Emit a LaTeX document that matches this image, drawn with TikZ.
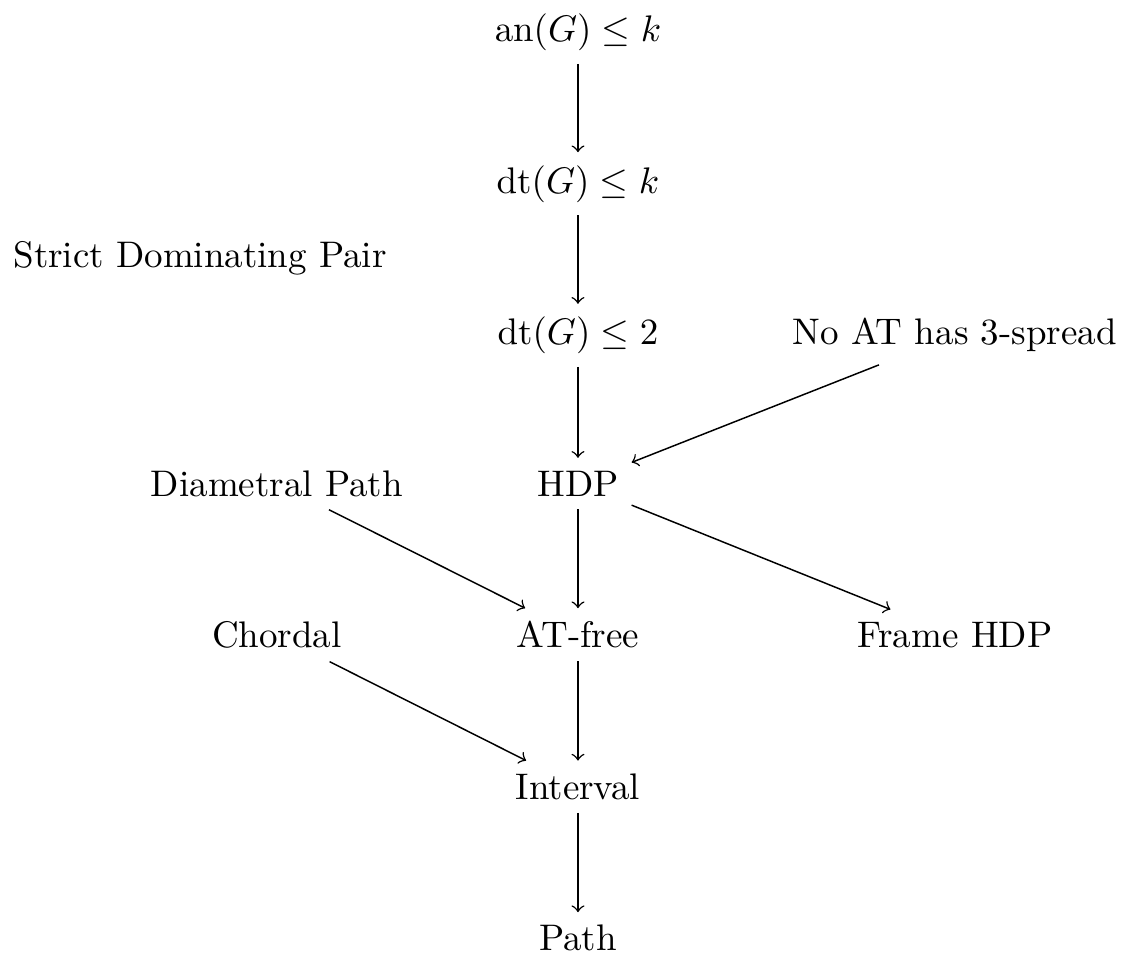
\documentclass[tikz,border=0pt]{standalone}
\usepackage{tikz}

\begin{document}
\begin{tikzpicture}[cls/.style={anchor=base}, imp/.style={->}]
              \useasboundingbox (-5.491,-8.678) rectangle (5.178,0.394);
              \node[cls] (an) at (0,0) {$\mathrm{an}(G) \leq k$};
              \node[cls] (dtk) at (0,-1.44) {$\mathrm{dt}(G) \leq k$};
              \node[cls] (sdp) at (-3.59,-2.15) {Strict Dominating Pair};
              \node[cls] (dttwo) at (0,-2.88) {$\mathrm{dt}(G) \leq 2$};
              \node[cls] (noat) at (3.58,-2.88) {No AT has 3-spread};
              \node[cls] (diam) at (-2.86,-4.32) {Diametral Path};
              \node[cls] (hdp) at (0,-4.32) {HDP};
              \node[cls] (chordal) at (-2.86,-5.76) {Chordal};
              \node[cls] (atfree) at (0,-5.76) {AT-free};
              \node[cls] (frame) at (3.58,-5.76) {Frame HDP};
              \node[cls] (interval) at (0,-7.20) {Interval};
              \node[cls] (path) at (0,-8.64) {Path};
              \draw[imp] (an) -- (dtk);
              \draw[imp] (dtk) -- (dttwo);
              \draw[imp] (dttwo) -- (hdp);
              \draw[imp] (noat) -- (hdp);
              \draw[imp] (diam) -- (atfree);
              \draw[imp] (hdp) -- (atfree);
              \draw[imp] (hdp) -- (frame);
              \draw[imp] (chordal) -- (interval);
              \draw[imp] (atfree) -- (interval);
              \draw[imp] (interval) -- (path);
          \end{tikzpicture}
\end{document}
